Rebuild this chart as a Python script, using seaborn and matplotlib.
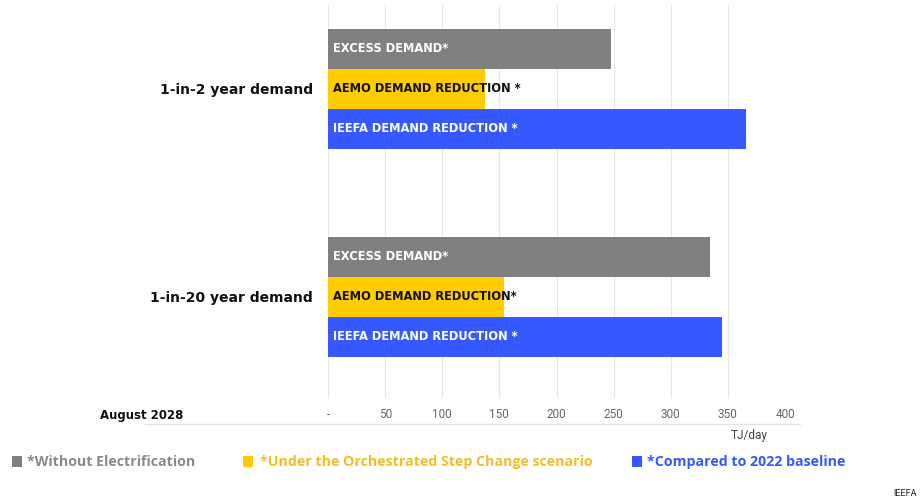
import matplotlib
matplotlib.use("Agg")
import matplotlib.pyplot as plt
import seaborn as sns
import pandas as pd
from matplotlib.lines import Line2D
from matplotlib.patches import Rectangle

# ---- data ----
groups = ["1-in-2 year demand", "1-in-20 year demand"]
series = ["EXCESS DEMAND*", "AEMO DEMAND REDUCTION *", "IEEFA DEMAND REDUCTION *"]
bar_labels_g1 = ["EXCESS DEMAND*", "AEMO DEMAND REDUCTION *", "IEEFA DEMAND REDUCTION *"]
bar_labels_g2 = ["EXCESS DEMAND*", "AEMO DEMAND REDUCTION*", "IEEFA DEMAND REDUCTION *"]
excess = [248, 334]
aemo = [137, 154]
ieefa = [366, 345]
x_ticks = [0, 50, 100, 150, 200, 250, 300, 350, 400]
x_tick_labels = ["-", "50", "100", "150", "200", "250", "300", "350", "400"]
legend_texts = ["*Without Electrification", "*Under the Orchestrated Step Change scenario",
                "*Compared to 2022 baseline"]

colors = ["#808080", "#FFCC00", "#3558FF"]
legend_text_colors = ["#8a8a8a", "#F2BE22", "#3558FF"]
label_colors = ["white", "#111111", "white"]

rows = []
for gi, g in enumerate(groups):
    rows.append({"group": g, "series": series[0], "value": excess[gi]})
    rows.append({"group": g, "series": series[1], "value": aemo[gi]})
    rows.append({"group": g, "series": series[2], "value": ieefa[gi]})
df = pd.DataFrame(rows)

sns.set_theme(style="white")
plt.rcParams["font.family"] = ["Roboto", "DejaVu Sans"]

W, H = 921, 500
fig = plt.figure(figsize=(W / 100, H / 100), dpi=100)
ax = fig.add_axes([328 / W, 1 - 398 / H, (785 - 328) / W, (398 - 5) / H])

sns.barplot(data=df, y="group", x="value", hue="series", order=groups,
            hue_order=series, palette=colors, width=120 / 208, orient="h",
            ax=ax, legend=False, saturation=1, linewidth=0)

ax.set_xlim(0, 400)
ax.set_ylim(1 + 101.5 / 208, -83.5 / 208)
ax.set_xticks(x_ticks)
ax.set_xticklabels(x_tick_labels, color="#666666", fontsize=8.5)
ax.tick_params(axis="x", length=0, pad=7)
ax.tick_params(axis="y", length=0, pad=11)
ax.set_yticks([0, 1])
ax.set_yticklabels(groups, fontsize=10, fontweight="bold", color="#111111",
                   family="DejaVu Sans")
ax.set_xlabel("")
ax.set_ylabel("")
ax.grid(axis="x", color="#e6e6e6", linewidth=0.8)
ax.set_axisbelow(True)
for s in ax.spines.values():
    s.set_visible(False)

# bar text labels
bars = sorted(ax.patches, key=lambda p: p.get_y())
all_labels = bar_labels_g1 + bar_labels_g2
lab_cols = label_colors + label_colors
for p, lab, c in zip(bars, all_labels, lab_cols):
    ax.text(4.5, p.get_y() + p.get_height() / 2, lab, color=c, fontsize=8.3,
            fontweight="bold", va="center", ha="left", family="DejaVu Sans")

# bottom line, labels
fig.add_artist(Line2D([145 / W, 800 / W], [1 - 424 / H, 1 - 424 / H],
                      color="#e3e3e3", linewidth=1))
fig.text(100 / W, 1 - 416 / H, "August 2028", fontsize=8.5, fontweight="bold",
         color="#111111", va="center", ha="left", family="DejaVu Sans")
fig.text(768 / W, 1 - 435 / H, "TJ/day", fontsize=8.5, color="#444444",
         va="center", ha="right")

# legend
leg_sq_x = [12, 243, 632]
leg_txt_x = [27, 260, 647]
for sx, tx, c, tc, t in zip(leg_sq_x, leg_txt_x, colors, legend_text_colors, legend_texts):
    fig.add_artist(Rectangle((sx / W, 1 - 467 / H), 10 / W, 11 / H,
                             transform=fig.transFigure, color=c, linewidth=0))
    fig.text(tx / W, 1 - 462 / H, t, fontsize=10.2, fontweight="bold", color=tc,
             va="center", ha="left", family="Open Sans")

fig.text(893 / W, 1 - 494 / H, "IEEFA", fontsize=6.5, color="#222222",
         va="center", ha="left")

fig.savefig("out.png", dpi=100)
